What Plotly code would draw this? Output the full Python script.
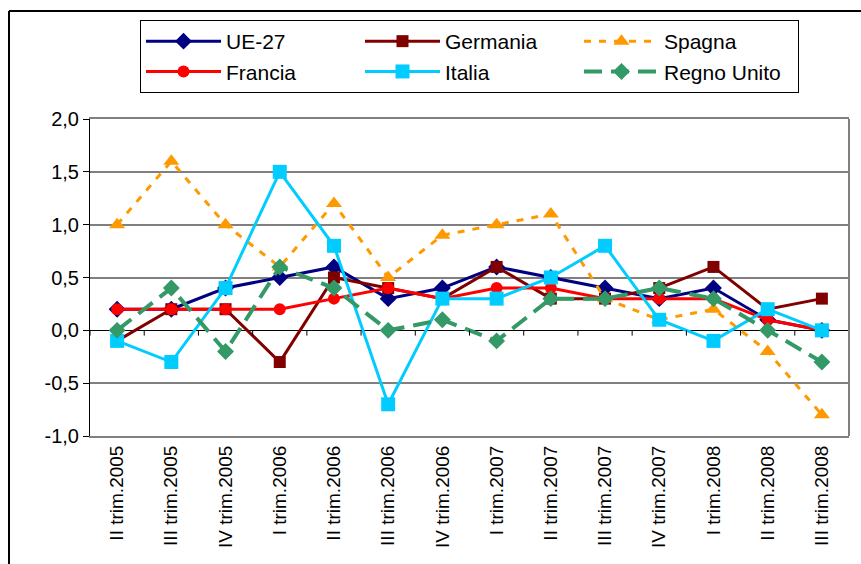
import plotly.graph_objects as go

categories = ["II trim.2005", "III trim.2005", "IV trim.2005", "I trim.2006", "II trim.2006",
              "III trim.2006", "IV trim.2006", "I trim.2007", "II trim.2007", "III trim.2007",
              "IV trim.2007", "I trim.2008", "II trim.2008", "III trim.2008"]

ue27 = [0.2, 0.2, 0.4, 0.5, 0.6, 0.3, 0.4, 0.6, 0.5, 0.4, 0.3, 0.4, 0.1, 0.0]
germania = [-0.1, 0.2, 0.2, -0.3, 0.5, 0.4, 0.3, 0.6, 0.3, 0.3, 0.4, 0.6, 0.2, 0.3]
spagna = [1.0, 1.6, 1.0, 0.6, 1.2, 0.5, 0.9, 1.0, 1.1, 0.3, 0.1, 0.2, -0.2, -0.8]
francia = [0.2, 0.2, 0.2, 0.2, 0.3, 0.4, 0.3, 0.4, 0.4, 0.3, 0.3, 0.3, 0.1, 0.0]
italia = [-0.1, -0.3, 0.4, 1.5, 0.8, -0.7, 0.3, 0.3, 0.5, 0.8, 0.1, -0.1, 0.2, 0.0]
regno_unito = [0.0, 0.4, -0.2, 0.6, 0.4, 0.0, 0.1, -0.1, 0.3, 0.3, 0.4, 0.3, 0.0, -0.3]

y_ticks = [-1.0, -0.5, 0.0, 0.5, 1.0, 1.5, 2.0]
y_tick_labels = ["-1,0", "-0,5", "0,0", "0,5", "1,0", "1,5", "2,0"]

series = [
    ("UE-27", ue27, "#000080", "solid", "diamond", 13, 3),
    ("Germania", germania, "#800000", "solid", "square", 12, 3),
    ("Spagna", spagna, "#FF9900", "7px,8px", "triangle-up", 14, 3),
    ("Francia", francia, "#FF0000", "solid", "circle", 12, 3),
    ("Italia", italia, "#00CCFF", "solid", "square", 14, 3),
    ("Regno Unito", regno_unito, "#339966", "18px,9px", "diamond", 13, 4),
]

fig = go.Figure()
for name, vals, color, dash, sym, size, width in series:
    fig.add_trace(go.Scatter(
        x=categories, y=vals, name=name, mode="lines+markers",
        line=dict(color=color, width=width, dash=dash),
        marker=dict(symbol=sym, size=size, color=color, line=dict(width=0)),
    ))

PL, PR, PT, PB = 90, 12, 119, 128
W, H = 861, 564
pw = W - PL - PR
ph = H - PT - PB

shapes = []
# tick marks on the zero line at category boundaries
for i in range(len(categories) + 1):
    shapes.append(dict(type="line", xref="x", yref="y", x0=i - 0.5, x1=i - 0.5,
                       y0=0, y1=-0.05, line=dict(color="black", width=1)))
# right border of plot area
shapes.append(dict(type="line", xref="paper", yref="paper", x0=1, x1=1, y0=0, y1=1,
                   line=dict(color="#808080", width=2)))
# outer chart frame (left and top)
fx = (9 - PL) / pw
fy_top = (H - PB - 11) / ph
fy_bot = (H - PB - H) / ph
fx_right = (W - PL) / pw
shapes.append(dict(type="line", xref="paper", yref="paper", x0=fx, x1=fx, y0=fy_bot, y1=fy_top,
                   line=dict(color="black", width=2)))
shapes.append(dict(type="line", xref="paper", yref="paper", x0=fx, x1=fx_right, y0=fy_top, y1=fy_top,
                   line=dict(color="black", width=2)))

fig.update_layout(
    width=W, height=H,
    margin=dict(l=PL, r=PR, t=PT, b=PB, autoexpand=False),
    paper_bgcolor="white", plot_bgcolor="white",
    font=dict(family="Liberation Sans, Arial, sans-serif", size=20, color="black"),
    showlegend=True,
    legend=dict(
        orientation="h", xref="container", yref="container",
        x=140 / W, xanchor="left",
        y=1 - 20 / H, yanchor="top",
        bordercolor="black", borderwidth=1, bgcolor="white",
        font=dict(size=21, color="black"),
        entrywidth=129, entrywidthmode="pixels", itemwidth=75,
        tracegroupgap=0,
    ),
    xaxis=dict(
        type="category", range=[-0.5, len(categories) - 0.5],
        showgrid=False, showline=True, linecolor="#808080", linewidth=2, mirror=True,
        ticks="", tickangle=-90, tickfont=dict(size=19), zeroline=False,
    ),
    yaxis=dict(
        range=[-1.0, 2.0], tickvals=y_ticks, ticktext=y_tick_labels,
        showgrid=True, gridcolor="#808080", gridwidth=1.5,
        zeroline=True, zerolinecolor="black", zerolinewidth=1,
        showline=True, linecolor="black", linewidth=1,
        ticks="outside", ticklen=6, tickcolor="black", tickfont=dict(size=20),
    ),
    shapes=shapes,
)

fig.write_html("out.html", post_script="document.body.style.margin='0px';",
               config={"displayModeBar": False})
